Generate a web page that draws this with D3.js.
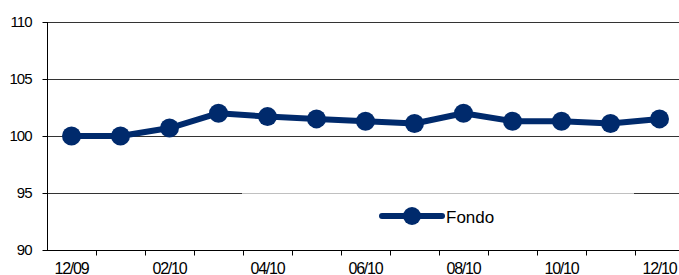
<!DOCTYPE html>
<html>
<head>
<meta charset="utf-8">
<script src="https://cdn.jsdelivr.net/npm/d3@7"></script>
<style>
  body { margin: 0; background: #fff; }
  svg { display: block; font-family: "Liberation Sans", Arial, sans-serif; }
</style>
</head>
<body>
<svg id="chart" width="679" height="275"></svg>
<script>
var months = ["12/09", "01/10", "02/10", "03/10", "04/10", "05/10", "06/10",
              "07/10", "08/10", "09/10", "10/10", "11/10", "12/10"];
var fondo = [100.0, 100.0, 100.7, 102.0, 101.7, 101.5, 101.3,
             101.1, 102.0, 101.3, 101.3, 101.1, 101.5];
var yTicks = [90, 95, 100, 105, 110];
var seriesName = "Fondo";

var navy = "#002a6c";
var svg = d3.select("#chart");
var mLeft = 47, mRight = 684, mTop = 22, mBottom = 250;

var x = d3.scaleBand().domain(months).range([mLeft, mRight]);
var y = d3.scaleLinear().domain([90, 110]).range([mBottom, mTop]);

// gridlines
svg.append("g").selectAll("line")
    .data(yTicks.filter(function(d) { return d > 90; }))
    .enter().append("line")
    .attr("x1", mLeft).attr("x2", 679)
    .attr("y1", function(d) { return Math.round(y(d)) + 0.5; })
    .attr("y2", function(d) { return Math.round(y(d)) + 0.5; })
    .attr("stroke", "#333").attr("stroke-width", 1);

// legend box edge hides part of the 95 line
svg.append("line")
    .attr("x1", 242).attr("x2", 634)
    .attr("y1", Math.round(y(95)) + 0.5).attr("y2", Math.round(y(95)) + 0.5)
    .attr("stroke", "#c0c0c0").attr("stroke-width", 1);

// y axis
var yAxis = svg.append("g")
    .attr("transform", "translate(" + (mLeft + 0.5) + ",0)")
    .call(d3.axisLeft(y).tickValues(yTicks).tickSize(5).tickPadding(11));
yAxis.select(".domain").attr("stroke", "#000").attr("d", "M0," + mTop + "V" + mBottom);
yAxis.selectAll(".tick line").attr("stroke", "#000");
yAxis.selectAll("text").attr("font-size", 15).attr("fill", "#000")
    .attr("letter-spacing", -1)
    .attr("font-family", "Liberation Sans, Arial, sans-serif");

// x axis: ticks between categories, labels every other month
var xg = svg.append("g").attr("transform", "translate(0," + (mBottom + 0.5) + ")");
xg.append("line").attr("x1", mLeft).attr("x2", 679).attr("stroke", "#000");
xg.selectAll("line.tk")
    .data(months.slice(1))
    .enter().append("line").attr("class", "tk")
    .attr("x1", function(d) { return Math.round(x(d)) + 0.5; })
    .attr("x2", function(d) { return Math.round(x(d)) + 0.5; })
    .attr("y1", 0).attr("y2", 5).attr("stroke", "#000");
xg.selectAll("text")
    .data(months.filter(function(d, i) { return i % 2 === 0; }))
    .enter().append("text")
    .attr("x", function(d) { return x(d) + x.bandwidth() / 2; })
    .attr("y", 23)
    .attr("text-anchor", "middle")
    .attr("font-size", 16)
    .attr("letter-spacing", -1.2)
    .text(function(d) { return d; });

// series
var cx = function(d, i) { return x(months[i]) + x.bandwidth() / 2; };
svg.append("path")
    .datum(fondo)
    .attr("fill", "none").attr("stroke", navy).attr("stroke-width", 6)
    .attr("stroke-linejoin", "round")
    .attr("d", d3.line().x(cx).y(function(d) { return y(d); }));
svg.append("g").selectAll("circle")
    .data(fondo)
    .enter().append("circle")
    .attr("cx", cx).attr("cy", function(d) { return y(d); })
    .attr("r", 9.5).attr("fill", navy);

// legend
var lg = svg.append("g").attr("transform", "translate(382,216)");
lg.append("line").attr("x1", 0).attr("x2", 60)
    .attr("stroke", navy).attr("stroke-width", 6).attr("stroke-linecap", "round");
lg.append("circle").attr("cx", 30).attr("r", 9).attr("fill", navy);
lg.append("text").attr("x", 64).attr("y", 7).attr("font-size", 17).text(seriesName);
</script>
</body>
</html>
